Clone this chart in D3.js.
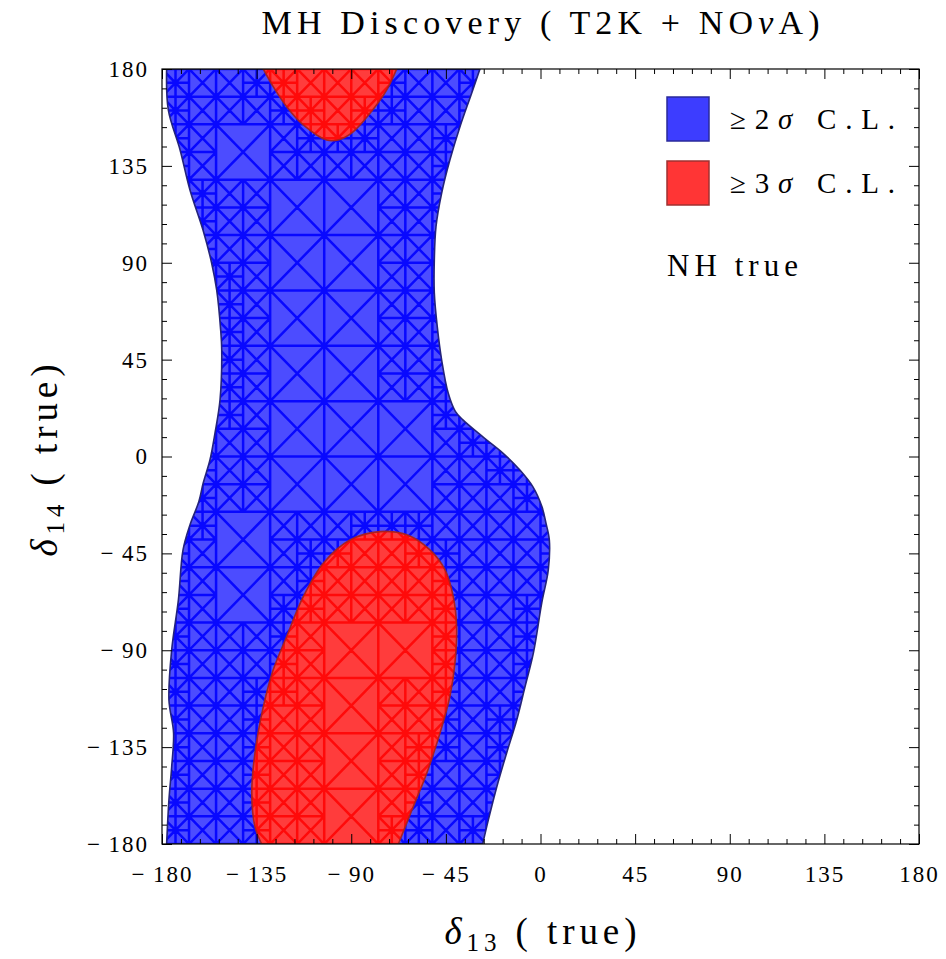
<!DOCTYPE html>
<html>
<head>
<meta charset="utf-8">
<script src="https://cdn.jsdelivr.net/npm/d3@7"></script>
<style>
body { margin: 0; background: #fff; }
svg text { font-family: "Liberation Serif", "Times New Roman", serif; fill: #000; }
</style>
</head>
<body>
<div id="chart"></div>
<script>

// Contour of the >= 2 sigma region, [delta13, delta14] in degrees.
// Left edge, top to bottom.
const blueLeft = [
    [-177.8, 180], [-177.0, 161.0], [-171.4, 142.4], [-166.7, 123.8], [-160.5, 105.2],
    [-156.4, 89.9], [-154.0, 77.4], [-152.1, 58.8], [-151.6, 49.5], [-152.4, 26.3],
    [-154.8, 10.9], [-157.2, -1.6], [-160.4, -12.3], [-162.5, -21], [-166.7, -31.8],
    [-170.0, -43.4], [-172.2, -66.6], [-175.4, -89.9], [-176.7, -113.1], [-174.5, -128.4],
    [-175.4, -144.2], [-176.7, -159.5], [-177.8, -180]
];
// Right edge, top to bottom.
const blueRight = [
    [-28.8, 180], [-32.7, 168.9], [-38.3, 153.2], [-43.1, 137.7], [-47.0, 122.4],
    [-49.7, 106.8], [-50.5, 91.3], [-50.5, 76.0], [-49.1, 60.3], [-47.0, 44.8],
    [-43.9, 29.5], [-40.5, 21], [-36.9, 17.0], [-27.4, 9.1], [-17.9, 1.6], [-9.8, -6.3],
    [-3.6, -14.1], [0.7, -23.4], [2.6, -31], [4.2, -38.8], [3.7, -52.7], [0.6, -68.0],
    [-3.4, -91.3], [-7.4, -107.1], [-11.3, -122.4], [-16.1, -137.7], [-20.8, -153.5],
    [-24.8, -168.8], [-27.5, -180]
];

// Contours of the >= 3 sigma regions.
const redTop = [
    [-131.8, 180], [-127.1, 171.8], [-120.7, 162.5], [-112.8, 154.0], [-101.7, 147.0],
    [-95.4, 147.3], [-89.0, 150.9], [-81.1, 159.4], [-73.2, 170.2], [-68.4, 180]
];
const redBottom = [
    [-132.6, -180], [-135.8, -171.9], [-137.3, -156.4], [-135.8, -137.8], [-131.8, -116.2],
    [-127.1, -99.1], [-120.7, -83.6], [-112.8, -65.1], [-103.3, -49.6], [-90.6, -38.8],
    [-76.3, -34.9], [-63.6, -36.4], [-52.6, -43.4], [-45.4, -52.7], [-41.5, -65.1],
    [-39.9, -79.0], [-40.7, -96.0], [-43.1, -111.5], [-47.8, -128.5], [-54.1, -147.1],
    [-60.5, -162.6], [-67.6, -180]
];

const majorTicks = [-180, -135, -90, -45, 0, 45, 90, 135, 180];
const legendLabels = ["≥2", "≥3"];
const legendColors = ["#3d3dff", "#ff3535"];
const legendEdges = ["#2a2a9a", "#a03030"];

const width = 946, height = 959;
const margin = {top: 69, right: 27, bottom: 115, left: 162};
const xwidth = width - margin.left - margin.right;
const yheight = height - margin.top - margin.bottom;

const svg = d3.select("#chart").append("svg")
    .attr("width", width)
    .attr("height", height);

const x = d3.scaleLinear().domain([-180, 180]).range([margin.left, margin.left + xwidth]);
const y = d3.scaleLinear().domain([-180, 180]).range([margin.top + yheight, margin.top]);

const line = d3.line()
    .x(d => x(d[0]))
    .y(d => y(d[1]))
    .curve(d3.curveCatmullRom.alpha(0.5));

let bluePath = line(blueLeft) + line(blueRight.slice().reverse()).replace(/^M/, "L") + "Z";
let redPaths = [line(redTop) + "Z", line(redBottom) + "Z"];

let defs = svg.append("defs");
defs.append("clipPath").attr("id", "plotClip")
    .append("rect")
    .attr("x", margin.left).attr("y", margin.top)
    .attr("width", xwidth).attr("height", yheight);
defs.append("clipPath").attr("id", "blueClip")
    .append("path").attr("d", bluePath);
let rc = defs.append("clipPath").attr("id", "redClip");
redPaths.forEach(p => rc.append("path").attr("d", p));

// Adaptive mesh, like the one the region plot draws: a square grid,
// refined where the contours pass, cells split by their diagonals.
let samples = [];
[blueLeft, blueRight, redTop, redBottom].forEach(c => {
    for (let i = 0; i < c.length - 1; i++) {
        let [x0, y0] = c[i], [x1, y1] = c[i + 1];
        let n = Math.ceil(Math.hypot(x1 - x0, y1 - y0));
        for (let k = 0; k <= n; k++) samples.push([x0 + (x1 - x0) * k / n, y0 + (y1 - y0) * k / n]);
    }
});

function near(x0, y0, s, m) {
    return samples.some(p => p[0] >= x0 - m && p[0] <= x0 + s + m && p[1] >= y0 - m && p[1] <= y0 + s + m);
}

let leaves = [];
function split(x0, y0, s, depth) {
    let m = depth === 0 ? s * 0.2 : 0;
    if (depth < 2 && near(x0, y0, s, m)) {
        let h = s / 2;
        split(x0, y0, h, depth + 1);
        split(x0 + h, y0, h, depth + 1);
        split(x0, y0 + h, h, depth + 1);
        split(x0 + h, y0 + h, h, depth + 1);
    } else {
        leaves.push([x0, y0, s, depth]);
    }
}
const cell = 360 / 14;
for (let i = 0; i < 14; i++)
    for (let j = 0; j < 14; j++)
        split(-180 + i * cell, -180 + j * cell, cell, 0);

let mesh = leaves.map(([x0, y0, s, depth]) => {
    let a = x(x0), b = x(x0 + s), c = y(y0), d = y(y0 + s);
    let p = `M${a},${c}L${b},${c}L${b},${d}L${a},${d}Z`;
    if (depth < 2) return p + `M${a},${c}L${b},${d}M${b},${c}L${a},${d}`;
    // finest cells: a single diagonal, alternating
    let k = Math.round((x0 + y0) / s);
    return p + (k % 2 === 0 ? `M${a},${c}L${b},${d}` : `M${b},${c}L${a},${d}`);
}).join("");

let plot = svg.append("g").attr("clip-path", "url(#plotClip)");

// >= 2 sigma
plot.append("path").attr("d", bluePath).attr("fill", "#4c4cff");
plot.append("path").attr("d", mesh)
    .attr("clip-path", "url(#blueClip)")
    .attr("fill", "none").attr("stroke", "#0808ff").attr("stroke-width", 2.5);
plot.append("path").attr("d", bluePath)
    .attr("fill", "none").attr("stroke", "#24247c").attr("stroke-width", 1.6);

// >= 3 sigma
let red = plot.append("g");
redPaths.forEach(p => red.append("path").attr("d", p).attr("fill", "#ff3c3c"));
red.append("g").attr("clip-path", "url(#redClip)")
    .append("path").attr("d", mesh)
    .attr("fill", "none").attr("stroke", "#ff0a0a").attr("stroke-width", 2.5);
redPaths.forEach(p => red.append("path").attr("d", p)
    .attr("fill", "none").attr("stroke", "#a82222").attr("stroke-width", 1.6));

// Axes: major and minor ticks inward on all four sides.
let minorTicks = d3.range(-180, 181, 9).filter(v => majorTicks.indexOf(v) < 0);
let fmt = d => d < 0 ? "\u2212\u2009" + (-d) : "" + d;

function addAxis(axis, transform, labels) {
    let g = svg.append("g").attr("transform", transform);
    g.call(axis.tickValues(majorTicks).tickSize(-10).tickFormat(labels ? fmt : ""));
    g.select(".domain").remove();
    g.selectAll("line").attr("stroke", "#000");
    let m = svg.append("g").attr("transform", transform);
    m.call(axis.tickValues(minorTicks).tickSize(-5).tickFormat(""));
    m.select(".domain").remove();
    m.selectAll("line").attr("stroke", "#000");
    return g;
}

let gx = addAxis(d3.axisBottom(x).tickPadding(22), `translate(0,${margin.top + yheight})`, true);
gx.selectAll("text").attr("font-size", 23).attr("letter-spacing", 2)
    .attr("font-family", "Liberation Serif");
let gy = addAxis(d3.axisLeft(y).tickPadding(13), `translate(${margin.left},0)`, true);
gy.selectAll("text").attr("font-size", 23).attr("letter-spacing", 2)
    .attr("font-family", "Liberation Serif");
addAxis(d3.axisTop(x), `translate(0,${margin.top})`, false);
addAxis(d3.axisRight(y), `translate(${margin.left + xwidth},0)`, false);

svg.append("rect")
    .attr("x", margin.left).attr("y", margin.top)
    .attr("width", xwidth).attr("height", yheight)
    .attr("fill", "none").attr("stroke", "#000").attr("stroke-width", 1.2);

// Title
let title = svg.append("text")
    .attr("x", margin.left + xwidth / 2).attr("y", 34)
    .attr("text-anchor", "middle").attr("font-size", 34)
    .attr("textLength", 558).attr("lengthAdjust", "spacing");
title.append("tspan").text("MH Discovery ( T2K + NO");
title.append("tspan").attr("font-style", "italic").text("ν");
title.append("tspan").text("A)");

// Axis titles
function axisTitle(g, sub) {
    g.attr("text-anchor", "middle").attr("font-size", 37)
        .attr("textLength", 192).attr("lengthAdjust", "spacing");
    g.append("tspan").attr("font-style", "italic").text("δ");
    g.append("tspan").attr("font-size", 25).attr("dy", 7).text(sub);
    g.append("tspan").attr("dy", -7).text(" ( true)");
}
axisTitle(svg.append("text").attr("x", margin.left + xwidth / 2).attr("y", 944), "13");
axisTitle(svg.append("text")
    .attr("transform", `translate(57,${margin.top + yheight / 2 + 4}) rotate(-90)`), "14");

// Legend
let legend = svg.append("g");
legendLabels.forEach((lab, i) => {
    legend.append("rect")
        .attr("x", 667).attr("y", 97 + i * 64)
        .attr("width", 42).attr("height", 44)
        .attr("fill", legendColors[i]).attr("stroke", legendEdges[i]).attr("stroke-width", 1.5);
    let t = legend.append("text")
        .attr("x", 730).attr("y", 129 + i * 64)
        .attr("font-size", 29)
        .attr("textLength", 165).attr("lengthAdjust", "spacing");
    t.append("tspan").text(lab);
    t.append("tspan").attr("font-style", "italic").text("σ");
    t.append("tspan").text(" C.L.");
});
legend.append("text")
    .attr("x", 667).attr("y", 276)
    .attr("font-size", 31)
    .attr("textLength", 131).attr("lengthAdjust", "spacing")
    .text("NH true");

</script>
</body>
</html>
